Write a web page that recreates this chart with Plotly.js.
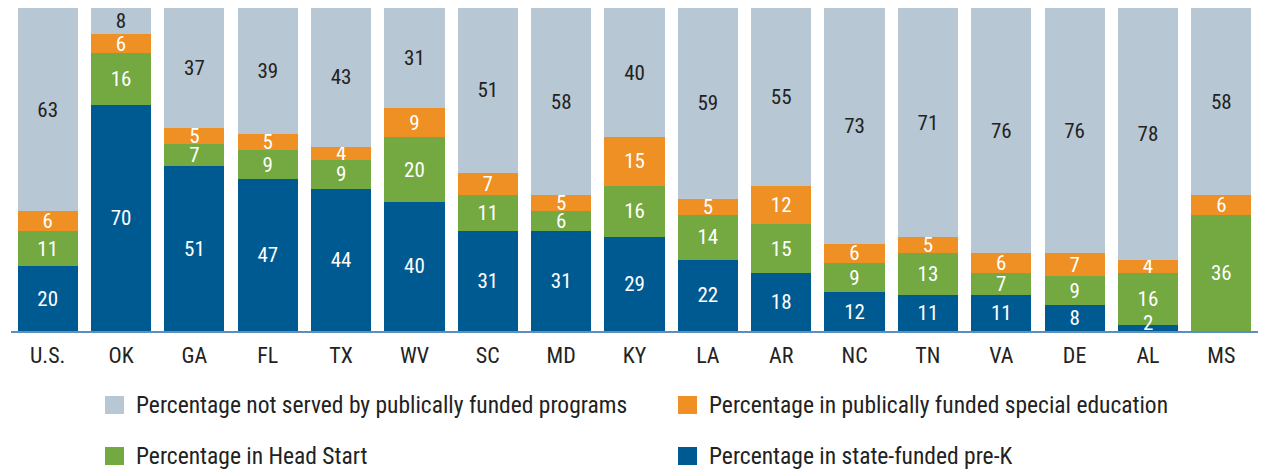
<!DOCTYPE html>
<html>
<head>
<meta charset="utf-8">
<script src="https://cdn.plot.ly/plotly-3.0.1.min.js"></script>
<style>html,body{margin:0;padding:0;background:#fff;}#chart{width:1270px;height:473px;}</style>
</head>
<body>
<div id="chart"></div>
<script>
const states = ["U.S.","OK","GA","FL","TX","WV","SC","MD","KY","LA","AR","NC","TN","VA","DE","AL","MS"];
const preK = [20,70,51,47,44,40,31,31,29,22,18,12,11,11,8,2,0];
const headStart = [11,16,7,9,9,20,11,6,16,14,15,9,13,7,9,16,36];
const specialEd = [6,6,5,5,4,9,7,5,15,5,12,6,5,6,7,4,6];
const notServed = [63,8,37,39,43,31,51,58,40,59,55,73,71,76,76,78,58];

const seriesNames = [
  "Percentage in state-funded pre-K",
  "Percentage in Head Start",
  "Percentage in publically funded special education",
  "Percentage not served by publically funded programs"
];
const colors = ["#005a92","#74a840","#ee9023","#b7c7d3"];
const textColors = ["#ffffff","#ffffff","#ffffff","#222222"];
const FONT = "'Liberation Sans Narrow','Roboto Condensed','Arial Narrow',Roboto,sans-serif";
const SMALL = 3; // values too small to hold their label inside the bar

const allVals = [preK, headStart, specialEd, notServed];
const traces = allVals.map((vals, i) => ({
  type: "bar",
  x: states,
  y: vals,
  name: seriesNames[i],
  marker: {color: colors[i], line: {width: 0}},
  text: vals.map(v => (v > SMALL) ? String(v) : ""),
  textposition: "inside",
  insidetextanchor: "middle",
  textangle: 0,
  constraintext: "none",
  cliponaxis: false,
  textfont: {family: FONT, size: 21, color: textColors[i]},
  hoverinfo: "x+y+name",
  showlegend: false
}));

const annotations = [];
// labels for very thin bottom segments (e.g. AL pre-K), placed through the data axes
preK.forEach((v, j) => {
  if (v > 0 && v <= SMALL) {
    annotations.push({xref: "x", yref: "y", x: states[j], y: v / 2, yshift: 5,
      showarrow: false, text: String(v), xanchor: "center", yanchor: "middle",
      font: {family: FONT, size: 21, color: "#ffffff"}});
  }
});

// Legend drawn as swatches + labels
const legendItems = [
  {idx: 3, x0: 105, y0: 396},
  {idx: 2, x0: 678, y0: 396},
  {idx: 1, x0: 105, y0: 447},
  {idx: 0, x0: 678, y0: 447}
];
const W = 1270, H = 473;
const ml = 11, mr = 12, mt = 8, mb = 142;
const pw = W - ml - mr, ph = H - mt - mb;
const px = x => (x - ml) / pw;
const py = y => (H - mb - y) / ph;
const shapes = [];
legendItems.forEach(it => {
  shapes.push({type: "rect", xref: "paper", yref: "paper",
    x0: px(it.x0), x1: px(it.x0 + 19), y0: py(it.y0 + 18), y1: py(it.y0),
    fillcolor: colors[it.idx], line: {width: 0}});
  annotations.push({xref: "paper", yref: "paper", x: px(it.x0 + 29), y: py(it.y0 + 9),
    xanchor: "left", yanchor: "middle", showarrow: false, text: seriesNames[it.idx],
    font: {family: FONT, size: 23.5, color: "#222222"}});
});

const layout = {
  width: W, height: H,
  margin: {l: ml, r: mr, t: mt, b: mb, pad: 0},
  paper_bgcolor: "#ffffff",
  plot_bgcolor: "#ffffff",
  barmode: "stack",
  bargap: 0.18,
  showlegend: false,
  xaxis: {
    type: "category",
    showline: true, linecolor: "#5a8fc0", linewidth: 1.5,
    showgrid: false, zeroline: false, ticks: "",
    tickfont: {family: FONT, size: 22, color: "#222222"},
    ticklabelstandoff: 4
  },
  yaxis: {
    range: [0, 100], visible: false, showgrid: false, zeroline: false
  },
  shapes: shapes,
  annotations: annotations,
  font: {family: FONT}
};

Plotly.newPlot("chart", traces, layout, {displayModeBar: false, staticPlot: true});
</script>
</body>
</html>
